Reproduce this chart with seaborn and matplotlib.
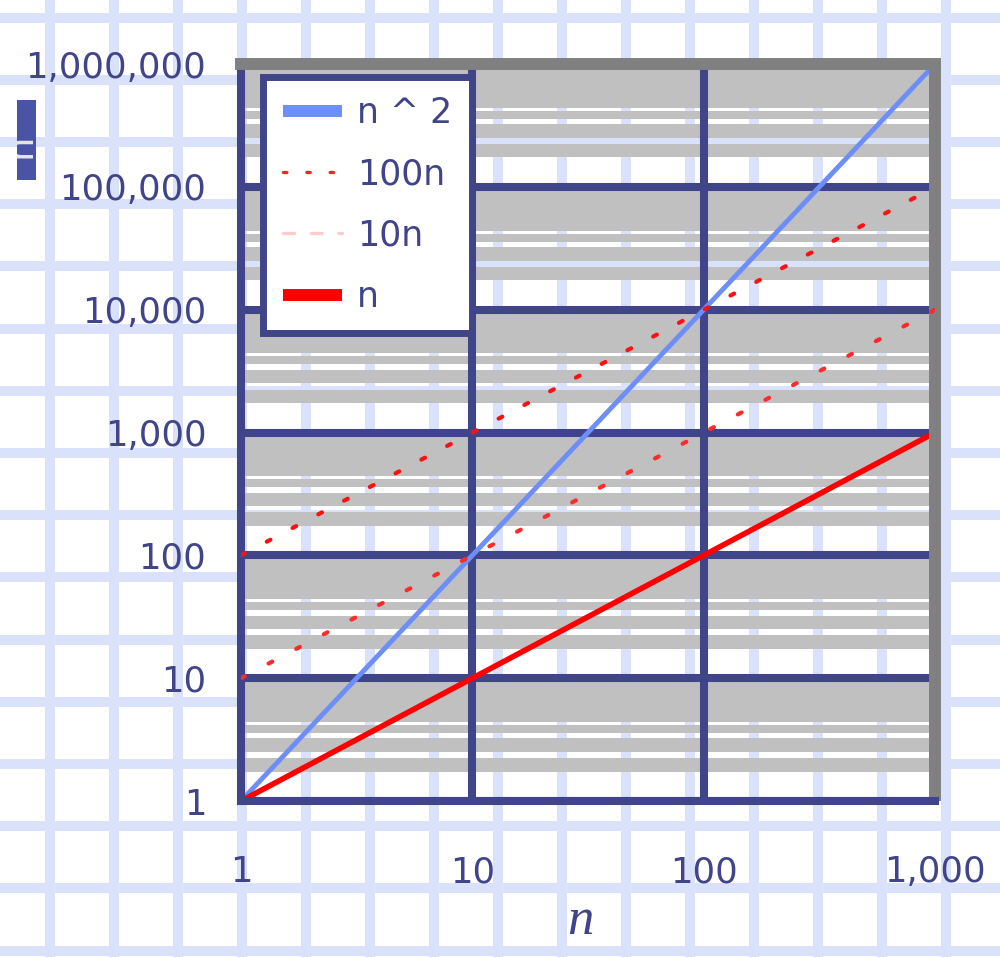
import numpy as np
import pandas as pd
import matplotlib
matplotlib.use("Agg")
import matplotlib.pyplot as plt
from matplotlib.ticker import FuncFormatter, NullLocator
from matplotlib.patches import Rectangle
import seaborn as sns

# values (log-log axes, so each series is a straight line)
n_values = [1, 10, 100, 1000]
n_squared = [1, 100, 10000, 1000000]
hundred_n = [100, 1000, 10000, 100000]
ten_n = [10, 100, 1000, 10000]
linear_n = [1, 10, 100, 1000]
series_labels = ["n ^ 2", "100n", "10n", "n"]
x_ticks = [1, 10, 100, 1000]
y_ticks = [1, 10, 100, 1000, 10000, 100000, 1000000]

navy = "#404488"
paper_blue = "#d9e2fa"
band_gray = "#c0c0c0"
wall_gray = "#808080"
palette = {"n ^ 2": "#6e8ef7", "100n": "#ff1010", "10n": "#ff2a2a", "n": "#ff0000"}
dashes = {"n ^ 2": "", "100n": (1, 6), "10n": (1, 6.5), "n": ""}
widths = {"n ^ 2": 3.5, "100n": 3.0, "10n": 3.0, "n": 4.0}

df = pd.DataFrame({
    "n": n_values * len(series_labels),
    "value": n_squared + hundred_n + ten_n + linear_n,
    "series": [lab for lab in series_labels for _ in n_values],
})

sns.set_style("white")
plt.rcParams["font.family"] = ["DejaVu Sans"]

fig = plt.figure(figsize=(10, 9.57), dpi=100)
fig.patch.set_facecolor("white")

# graph paper behind everything
bg = fig.add_axes([0, 0, 1, 1], zorder=-10)
bg.set_xlim(0, 1000)
bg.set_ylim(957, 0)
bg.axis("off")
for gx in np.arange(49.5, 1000, 64.07):
    bg.axvline(gx, color=paper_blue, lw=7.2)
for gy in np.arange(17.5, 957, 62.2):
    bg.axhline(gy, color=paper_blue, lw=7.2)

ax = fig.add_axes([0.241, 0.163, 0.694, 0.770])
ax.set_facecolor("none")
ax.set_xscale("log")
ax.set_yscale("log")

# gray banding inside each decade (paper shows through the gaps)
band_pattern = [(0.24, 0.35), (0.40, 0.51), (0.555, 0.62), (0.645, 1.0)]
for d in y_ticks[:-1]:
    for lo, hi in band_pattern:
        ax.axhspan(d * 10 ** lo, d * 10 ** hi, color=band_gray, lw=0, zorder=0.1)

sns.lineplot(data=df, x="n", y="value", hue="series", style="series",
             hue_order=series_labels, style_order=series_labels,
             palette=palette, dashes=dashes, estimator=None, sort=False,
             legend=False, ax=ax)

for line, lab in zip(ax.lines, series_labels):
    line.set_linewidth(widths[lab])
    line.set_dash_capstyle("round")
    line.set_solid_capstyle("butt")
    line.set_zorder(3 if lab in ("100n", "10n") else 2)

ax.set_xlim(1, 1000)
ax.set_ylim(1, 1000000)
ax.set_xticks(x_ticks)
ax.set_yticks(y_ticks)
ax.xaxis.set_minor_locator(NullLocator())
ax.yaxis.set_minor_locator(NullLocator())
fmt = FuncFormatter(lambda v, p: f"{v:,.0f}")
ax.xaxis.set_major_formatter(fmt)
ax.yaxis.set_major_formatter(fmt)

ax.set_axisbelow(True)
ax.grid(True, which="major", color=navy, lw=5.8)

for side in ["left", "bottom"]:
    ax.spines[side].set_color(navy)
    ax.spines[side].set_linewidth(5.8)
for side in ["top", "right"]:
    ax.spines[side].set_color(wall_gray)
    ax.spines[side].set_linewidth(8.6)
ax.spines["right"].set_capstyle("butt")
ax.spines["bottom"].set_zorder(2.6)

ax.tick_params(axis="both", which="major", direction="out", length=11, width=8.4,
               color=navy, labelcolor=navy, labelsize=25.5)
ax.tick_params(axis="y", pad=14)
ax.tick_params(axis="x", pad=28)

ax.set_xlabel("n", fontfamily="Liberation Serif", style="italic", fontsize=38, color=navy)
ax.xaxis.set_label_coords(0.4885, -0.181)
ax.xaxis.label.set_va("baseline")
ax.set_ylabel("")

# clipped y-axis title box at the top left
box = Rectangle((0.017, 0.8119), 0.019, 0.0836, transform=fig.transFigure,
                facecolor="#4a54a6", edgecolor="none")
fig.add_artist(box)
ytitle = fig.text(0.020, 0.848, "n", rotation=90, color="#e6e6e6", fontsize=28,
                  ha="center", va="center")
ytitle.set_clip_path(box)

leg = ax.legend(ax.lines[:4], series_labels, loc="upper left",
                bbox_to_anchor=(0.0324, 0.982), borderaxespad=0,
                frameon=True, fancybox=False, edgecolor=navy, facecolor="white",
                framealpha=1, fontsize=25, labelcolor=navy, handlelength=1.7,
                handletextpad=0.45, borderpad=0.55, labelspacing=0.78)
leg.get_frame().set_linewidth(5)
leg.set_zorder(6)
legend_style = {
    "n ^ 2": ("#6e8ef7", 8.6, "-"),
    "100n": ("#ff2020", 2.4, (0, (1, 6))),
    "10n": ("#ffcccc", 2.4, (0, (3.3, 5))),
    "n": ("#ff0000", 8.6, "-"),
}
for hl, lab in zip(leg.get_lines(), series_labels):
    col, lw, ls = legend_style[lab]
    hl.set_color(col)
    hl.set_linewidth(lw)
    hl.set_linestyle(ls)
    hl.set_solid_capstyle("butt")

fig.savefig("out.png", dpi=100)
